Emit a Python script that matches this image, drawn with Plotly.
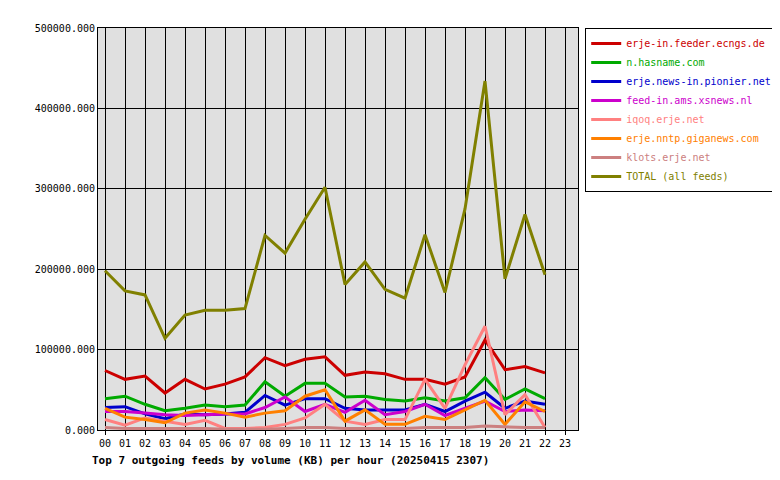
import plotly.graph_objects as go

hours = list(range(23))
hour_labels = [f"{h:02d}" for h in range(24)]

feeds = ["erje-in.feeder.ecngs.de", "n.hasname.com", "erje.news-in.pionier.net.pl",
         "feed-in.ams.xsnews.nl", "iqoq.erje.net", "erje.nntp.giganews.com",
         "klots.erje.net", "TOTAL (all feeds)"]
colors = ["#cc0000", "#00aa00", "#0000cc", "#cc00cc", "#ff8080", "#ff8000", "#cc8080", "#808000"]

ecngs = [74000, 63000, 67000, 46000, 63000, 51000, 57000, 66000, 90000, 80000, 88000, 91000,
         68000, 72000, 70000, 63000, 63000, 57000, 66000, 112000, 75000, 79000, 71000]
hasname = [39000, 42000, 32000, 24000, 27000, 31000, 29000, 31000, 60000, 42000, 58000, 58000,
           41000, 42000, 38000, 36000, 40000, 36000, 40000, 65000, 38000, 51000, 39000]
pionier = [28000, 29000, 20000, 14000, 20000, 19000, 20000, 22000, 43000, 31000, 39000, 39000,
           27000, 25000, 25000, 25000, 32000, 23000, 36000, 47000, 27000, 36000, 32000]
xsnews = [23000, 23000, 21000, 19000, 18000, 19000, 20000, 20000, 28000, 41000, 23000, 32000,
          22000, 37000, 19000, 23000, 32000, 18000, 27000, 36000, 23000, 25000, 24000]
iqoq = [13000, 6000, 15000, 11000, 7000, 12000, 2000, 2000, 3000, 7000, 15000, 32000,
        11000, 7000, 13000, 13000, 63000, 27000, 81000, 129000, 19000, 44000, 3000]
giganews = [27000, 16000, 13000, 9000, 21000, 25000, 21000, 16000, 21000, 24000, 42000, 50000,
            11000, 25000, 7000, 7000, 17000, 13000, 25000, 37000, 7000, 35000, 23000]
klots = [3000, 2000, 2000, 2000, 2000, 2000, 1000, 1000, 1000, 2000, 3000, 3000,
         2000, 2000, 2000, 2000, 3000, 3000, 3000, 5000, 4000, 3000, 3000]
total = [198000, 173000, 168000, 114000, 143000, 149000, 149000, 151000, 242000, 220000, 262000, 302000,
         181000, 209000, 175000, 164000, 243000, 171000, 275000, 434000, 188000, 268000, 193000]

series = [ecngs, hasname, pionier, xsnews, iqoq, giganews, klots, total]

fig = go.Figure()
for name, col, vals in zip(feeds, colors, series):
    fig.add_trace(go.Scatter(
        x=hours, y=vals, mode="lines", line=dict(color=col, width=3),
        name=f"<span style='color:{col}'>{name}</span>",
    ))

fig.update_layout(
    width=780, height=480,
    margin=dict(l=90, r=210, t=20, b=58, autoexpand=False),
    paper_bgcolor="white", plot_bgcolor="#e0e0e0",
    font=dict(family="DejaVu Sans Mono", size=10, color="black"),
    showlegend=True,
    legend=dict(x=1.015, y=1, xanchor="left", yanchor="top", bgcolor="white",
                bordercolor="black", borderwidth=1, tracegroupgap=0,
                itemwidth=30, font=dict(size=10)),
    xaxis=dict(range=[-0.35, 23.65], tickmode="array", tickvals=list(range(24)),
               ticktext=hour_labels, showgrid=True, gridcolor="black", gridwidth=1,
               zeroline=False, showline=True, linecolor="black", mirror=True,
               ticks="outside", ticklen=4, tickcolor="black"),
    yaxis=dict(range=[0, 500000], tickvals=[0, 100000, 200000, 300000, 400000, 500000],
               tickformat=".3f", showgrid=True, gridcolor="black", gridwidth=1,
               zeroline=False, showline=True, linecolor="black", mirror=True),
    annotations=[dict(text="<b>Top 7 outgoing feeds by volume (KB) per hour (20250415 2307)</b>",
                      x=-0.017, y=-0.075, xref="paper", yref="paper", showarrow=False,
                      xanchor="left", yanchor="middle", font=dict(size=11))],
)
fig.write_html("out.html")
